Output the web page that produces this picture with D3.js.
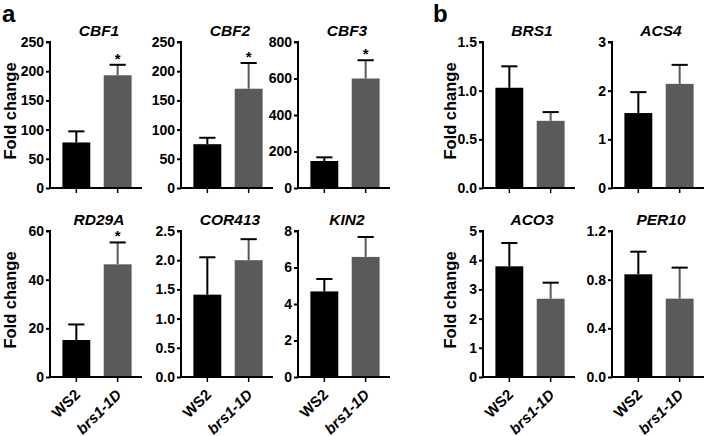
<!DOCTYPE html>
<html><head><meta charset="utf-8">
<script src="https://cdn.jsdelivr.net/npm/d3@7"></script>
<style>
html,body{margin:0;padding:0;background:#fff;}
svg{display:block;}
</style></head>
<body>
<script>
const genes      = ["CBF1","CBF2","CBF3","RD29A","COR413","KIN2","BRS1","ACS4","ACO3","PER10"];
const groups     = ["WS2","brs1-1D"];
const ws2Means   = [78, 75, 148, 15.2, 1.41, 4.69, 1.03, 1.54, 3.79, 0.844];
const ws2Errors  = [19, 11, 20, 6.4, 0.64, 0.68, 0.22, 0.43, 0.80, 0.186];
const brsMeans   = [193, 170, 600, 46.3, 2.0, 6.58, 0.69, 2.14, 2.68, 0.644];
const brsErrors  = [18, 44, 100, 9.0, 0.36, 1.09, 0.09, 0.39, 0.55, 0.255];
const yMaxes     = [250, 250, 800, 60, 2.5, 8, 1.5, 3, 5, 1.2];
const yTickSteps = [50, 50, 200, 20, 0.5, 2, 0.5, 1, 1, 0.4];
const yDecimals  = [0, 0, 0, 0, 1, 0, 1, 0, 0, 1];
const starred    = [true, true, true, true, false, false, false, false, false, false];
const panelLetters = ["a","b"];

// layout (positions only)
const W = 708, H = 436;
const axisX = [50, 181, 298, 50, 181, 298, 483, 612, 483, 612];
const rowOf = [0, 0, 0, 1, 1, 1, 0, 0, 1, 1];
const rowTop = [42, 231], rowBottom = [188, 377];
const axisLen = 92;
const font = "'Liberation Sans', Arial, Helvetica, sans-serif";
const colors = ["#000000", "#5a5a5a"];

const svg = d3.select("body").append("svg").attr("width", W).attr("height", H)
  .style("font-family", font);

genes.forEach((g, i) => {
  const x0 = axisX[i], r = rowOf[i];
  const y = d3.scaleLinear().domain([0, yMaxes[i]]).range([rowBottom[r], rowTop[r]]);
  const x = d3.scaleBand().domain(groups).range([x0, x0 + axisLen + 2])
    .paddingInner(0.325).paddingOuter(0.3);
  const gEl = svg.append("g");
  const means = [ws2Means[i], brsMeans[i]];
  const errs = [ws2Errors[i], brsErrors[i]];
  const data = groups.map((k, j) => ({k, m: means[j], e: errs[j], c: colors[j]}));

  // bars
  gEl.selectAll("rect.bar").data(data).enter().append("rect")
    .attr("x", d => x(d.k)).attr("width", x.bandwidth())
    .attr("y", d => y(d.m)).attr("height", d => y(0) - y(d.m))
    .attr("fill", d => d.c);
  // error bars
  const capW = x.bandwidth() * 0.58;
  data.forEach(d => {
    const cx = x(d.k) + x.bandwidth() / 2;
    gEl.append("line").attr("x1", cx).attr("x2", cx)
      .attr("y1", y(d.m)).attr("y2", y(d.m + d.e))
      .attr("stroke", d.c).attr("stroke-width", 2);
    gEl.append("line").attr("x1", cx - capW / 2).attr("x2", cx + capW / 2)
      .attr("y1", y(d.m + d.e)).attr("y2", y(d.m + d.e))
      .attr("stroke", "#000").attr("stroke-width", 2);
  });
  if (starred[i]) {
    const d = data[1];
    gEl.append("text").attr("x", x(d.k) + x.bandwidth() / 2).attr("y", y(d.m + d.e) - 1)
      .attr("text-anchor", "middle").attr("font-size", 15).attr("font-weight", "bold")
      .text("*");
  }

  // y axis
  const ticks = d3.range(0, yMaxes[i] + yTickSteps[i] / 2, yTickSteps[i]);
  const yAxis = d3.axisLeft(y).tickValues(ticks).tickSize(4).tickPadding(2)
    .tickFormat(d3.format("." + yDecimals[i] + "f"));
  const ya = gEl.append("g").attr("transform", `translate(${x0},0)`).call(yAxis);
  ya.select(".domain").attr("stroke-width", 2).attr("d", `M-4,${y(yMaxes[i])}H0V${y(0)}`);
  ya.selectAll(".tick line").attr("stroke-width", 2);
  ya.selectAll("text").attr("font-size", 14).attr("font-weight", "bold")
    .attr("font-family", font).attr("fill", "#000");

  // x axis
  const xAxis = d3.axisBottom(x).tickSize(5).tickFormat("");
  const xa = gEl.append("g").attr("transform", `translate(0,${y(0)})`).call(xAxis);
  xa.select(".domain").attr("stroke-width", 2).attr("d", `M${x0 - 1},0H${x0 + axisLen}`);
  xa.selectAll(".tick line").attr("stroke-width", 1.5);
  if (r === 1) {
    groups.forEach((k, j) => {
      const cx = x(k) + x.bandwidth() / 2;
      gEl.append("text")
        .attr("transform", `translate(${cx + 1},${y(0) + 15}) rotate(-45)`)
        .attr("text-anchor", "end").attr("font-size", 15).attr("font-weight", "bold")
        .attr("font-style", j === 1 ? "italic" : "normal")
        .attr("dy", "0.35em")
        .text(k);
    });
  }

  // title
  gEl.append("text").attr("x", x0 + 49).attr("y", rowTop[r] - 6)
    .attr("text-anchor", "middle").attr("font-size", 15.5).attr("font-weight", "bold")
    .attr("font-style", "italic").text(g);
});

// Fold change labels
const fcX = [10, 450];
fcX.forEach(fx => {
  [0, 1].forEach(r => {
    svg.append("text")
      .attr("transform", `translate(${fx},${(rowTop[r] + rowBottom[r]) / 2 - 4}) rotate(-90)`)
      .attr("text-anchor", "middle").attr("dy", "0.35em")
      .attr("font-size", 16.5).attr("font-weight", "bold").text("Fold change");
  });
});

// panel letters
const letterX = [2, 433];
panelLetters.forEach((l, i) => {
  svg.append("text").attr("x", letterX[i]).attr("y", 22)
    .attr("font-size", 24).attr("font-weight", "bold").text(l);
});
</script>
</body></html>
